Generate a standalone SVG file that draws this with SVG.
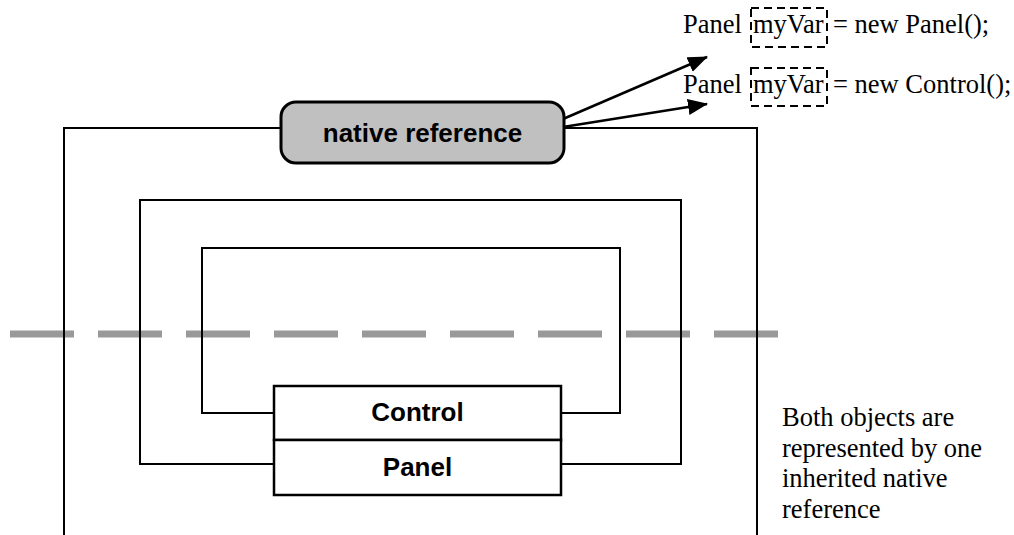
<svg xmlns="http://www.w3.org/2000/svg" width="1014" height="535" viewBox="0 0 1014 535">
<style>
.ln{fill:none;stroke:#000;stroke-width:2}
.box{fill:#fff;stroke:#000;stroke-width:2.5}
.bold{font-family:"Liberation Sans",Arial,sans-serif;font-weight:bold;font-size:26px;fill:#000;text-anchor:middle}
.serif{font-family:"Liberation Serif","Times New Roman",serif;font-size:26.5px;fill:#000}
.dash{fill:none;stroke:#000;stroke-width:2;stroke-dasharray:8 5}
.arr{fill:none;stroke:#000;stroke-width:2.5}
</style>
<defs>
<marker id="ah" viewBox="0 0 20 16" refX="19" refY="8" markerWidth="20" markerHeight="16" markerUnits="userSpaceOnUse" orient="auto">
<path d="M0,0 L20,8 L0,16 Z" fill="#000"/>
</marker>
</defs>
<rect x="0" y="0" width="1014" height="535" fill="#fff"/>
<line x1="10" y1="334" x2="779" y2="334" stroke="#999" stroke-width="7" stroke-dasharray="64 24"/>
<g id="connectors">
<path class="ln" d="M64,535 V128 H282"/>
<path class="ln" d="M563,128 H757 V535"/>
<path class="ln" d="M274,464 H140 V200 H681 V464 H561"/>
<path class="ln" d="M274,413 H202 V248 H620 V413 H561"/>
<line class="arr" x1="563" y1="119" x2="707" y2="57" marker-end="url(#ah)"/>
<line class="arr" x1="563" y1="127" x2="707" y2="104" marker-end="url(#ah)"/>
</g>
<g id="native-reference">
<rect x="281" y="102" width="283" height="61" rx="15" ry="15" fill="#c0c0c0" stroke="#000" stroke-width="3"/>
<text class="bold" x="422.5" y="142">native reference</text>
</g>
<g id="control">
<rect class="box" x="274" y="386" width="287" height="54"/>
<text class="bold" x="417.5" y="421">Control</text>
</g>
<g id="panel">
<rect class="box" x="274" y="440" width="287" height="55"/>
<text class="bold" x="417.5" y="476">Panel</text>
</g>
<g id="code1">
<rect class="dash" x="751" y="8" width="76" height="39"/>
<text class="serif" y="33"><tspan x="683">Panel</tspan><tspan x="753">myVar</tspan><tspan x="833">= new Panel();</tspan></text>
</g>
<g id="code2">
<rect class="dash" x="751" y="68" width="76" height="38"/>
<text class="serif" y="93"><tspan x="683">Panel</tspan><tspan x="753">myVar</tspan><tspan x="833">= new Control();</tspan></text>
</g>
<g id="note">
<text class="serif" x="782"><tspan x="782" y="426">Both objects are</tspan><tspan x="782" y="456.5">represented by one</tspan><tspan x="782" y="487">inherited native</tspan><tspan x="782" y="517.5">reference</tspan></text>
</g>
</svg>
